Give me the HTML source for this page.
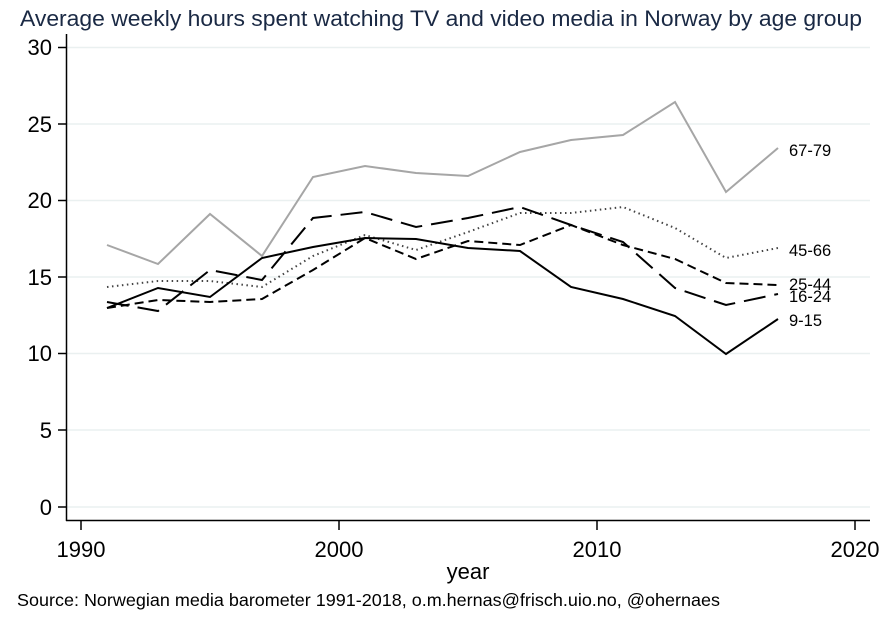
<!DOCTYPE html>
<html><head><meta charset="utf-8"><style>body{margin:0;background:#fff}svg{display:block}text{font-family:"Liberation Sans",sans-serif}</style></head><body>
<svg width="891" height="620" viewBox="0 0 891 620">
<rect width="891" height="620" fill="#fff"/>
<text x="20" y="26" font-size="22.5" fill="#1a2944" textLength="842" lengthAdjust="spacingAndGlyphs">Average weekly hours spent watching TV and video media in Norway by age group</text>
<g stroke="#eaf0f0" stroke-width="1.5">
<line x1="67" x2="870" y1="47.5" y2="47.5"/><line x1="67" x2="870" y1="124" y2="124"/><line x1="67" x2="870" y1="200.5" y2="200.5"/><line x1="67" x2="870" y1="277" y2="277"/><line x1="67" x2="870" y1="353.5" y2="353.5"/><line x1="67" x2="870" y1="430" y2="430"/><line x1="67" x2="870" y1="507" y2="507"/>
</g>
<g stroke="#000" stroke-width="1.5">
<line x1="66.5" y1="34" x2="66.5" y2="521"/><line x1="66" y1="520.5" x2="870" y2="520.5"/>
<line x1="58" x2="66" y1="47.5" y2="47.5"/><line x1="58" x2="66" y1="124" y2="124"/><line x1="58" x2="66" y1="200.5" y2="200.5"/><line x1="58" x2="66" y1="277" y2="277"/><line x1="58" x2="66" y1="353.5" y2="353.5"/><line x1="58" x2="66" y1="430" y2="430"/><line x1="58" x2="66" y1="507" y2="507"/>
<line x1="81" x2="81" y1="521" y2="530"/><line x1="339" x2="339" y1="521" y2="530"/><line x1="597" x2="597" y1="521" y2="530"/><line x1="855" x2="855" y1="521" y2="530"/>
</g>
<g font-size="22" text-anchor="end" fill="#000">
<text x="52" y="55">30</text><text x="52" y="132">25</text><text x="52" y="208">20</text><text x="52" y="285">15</text><text x="52" y="361">10</text><text x="52" y="438">5</text><text x="52" y="515">0</text>
</g>
<g font-size="22" text-anchor="middle">
<text x="81" y="557">1990</text><text x="339" y="557">2000</text><text x="597" y="557">2010</text><text x="855" y="557">2020</text>
<text x="468" y="579">year</text>
</g>
<text x="17" y="606" font-size="17.5" textLength="703" lengthAdjust="spacingAndGlyphs">Source: Norwegian media barometer 1991-2018, o.m.hernas@frisch.uio.no, @ohernaes</text>
<g fill="none" stroke-width="2">
<polyline stroke="#a6a6a6" points="107,245 158,264 210,214 262,256 313,177 365,166 416,173 468,176 520,152 571,140 623,135 675,102 726,192 778,148"/>
<polyline stroke="#444" stroke-dasharray="1.5 3.5" points="107,287 158,281 210,281 262,287 313,256 365,235 416,250 468,232 520,213 571,213 623,207 675,228 726,258 778,248"/>
<polyline stroke="#000" points="107,308 158,288 210,297 262,258 313,247 365,238 416,239 468,248 520,251 571,287 623,299 675,316 726,354 778,319"/>
<polyline stroke="#000" stroke-dasharray="22 9" points="107,302 158,311 210,270 262,280 313,218 365,212 416,227 468,218 520,207 571,225 623,242 675,288 726,305 778,294"/>
<polyline stroke="#000" stroke-dasharray="9 5" points="107,308 158,300 210,302 262,299 313,270 365,238 416,259 468,241 520,245 571,225 623,245 675,259 726,283 778,285"/>
</g>
<g font-size="16.5">
<text x="789" y="156">67-79</text><text x="789" y="256">45-66</text><text x="789" y="290">25-44</text><text x="789" y="302">16-24</text><text x="789" y="326">9-15</text>
</g>
</svg>
</body></html>
